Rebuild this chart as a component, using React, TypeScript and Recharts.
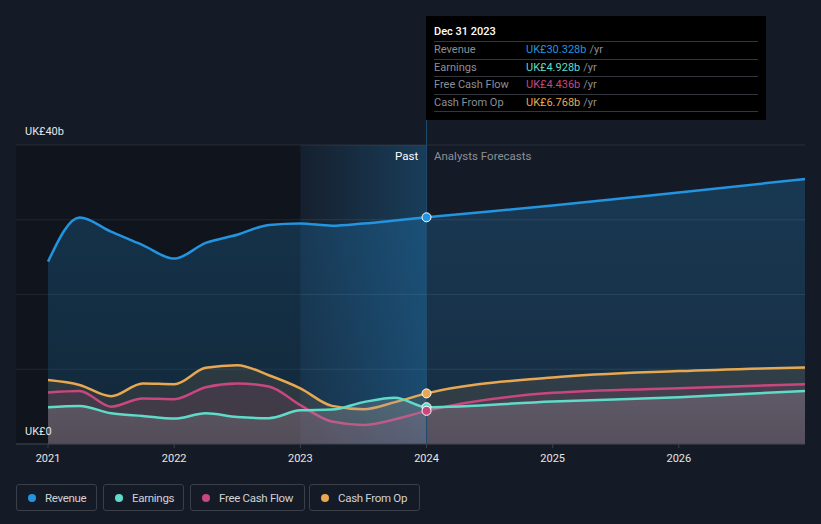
import React from "react"
import {
  ComposedChart,
  Area,
  XAxis,
  YAxis,
  CartesianGrid,
  ReferenceArea,
  ReferenceLine,
  ReferenceDot,
} from "recharts"

// time points (fractional years): quarterly history, then yearly forecasts
const TIMES = [
  2021.0, 2021.25, 2021.5, 2021.75, 2022.0, 2022.25, 2022.5, 2022.75,
  2023.0, 2023.25, 2023.5, 2023.75, 2024.0, 2025.0, 2026.0, 2027.0,
]
const REVENUE = [24.4, 30.3, 28.4, 26.6, 24.8, 26.9, 28.0, 29.3, 29.5, 29.2, 29.5, 29.9, 30.328, 31.9, 33.65, 35.45]
const EARNINGS = [4.9, 5.1, 4.1, 3.75, 3.4, 4.1, 3.6, 3.45, 4.5, 4.6, 5.6, 6.2, 4.928, 5.7, 6.25, 7.1]
const FREE_CASH_FLOW = [6.9, 7.1, 5.0, 6.1, 6.0, 7.6, 8.1, 7.7, 5.2, 3.0, 2.55, 3.3, 4.436, 6.85, 7.45, 8.0]
const CASH_FROM_OP = [8.55, 7.9, 6.4, 8.1, 8.0, 10.2, 10.55, 9.2, 7.45, 5.1, 4.65, 5.6, 6.768, 8.9, 9.75, 10.25]

const X_TICKS = [2021, 2022, 2023, 2024, 2025, 2026]
const Y_TICKS = [0, 10, 20, 30, 40]
const NOW = 2024.0
const NOW_INDEX = 12

const COLORS = {
  revenue: "#2394df",
  earnings: "#5fdcc9",
  fcf: "#c8477e",
  cfo: "#e8a852",
}

const SERIES = [
  { key: "revenue", name: "Revenue", values: REVENUE, color: COLORS.revenue },
  { key: "earnings", name: "Earnings", values: EARNINGS, color: COLORS.earnings },
  { key: "fcf", name: "Free Cash Flow", values: FREE_CASH_FLOW, color: COLORS.fcf },
  { key: "cfo", name: "Cash From Op", values: CASH_FROM_OP, color: COLORS.cfo },
]

// legend box placement
const LEGEND_BOXES = [
  { left: 16, width: 81 },
  { left: 103, width: 81 },
  { left: 190, width: 115 },
  { left: 309, width: 111 },
]

const chartData = TIMES.map((t, i) => ({
  t,
  revenue: REVENUE[i],
  earnings: EARNINGS[i],
  fcf: FREE_CASH_FLOW[i],
  cfo: CASH_FROM_OP[i],
}))

const FONT = "Roboto, 'Noto Sans', sans-serif"

const TOOLTIP_ROWS = [
  { label: "Revenue", value: "UK£30.328b", color: COLORS.revenue },
  { label: "Earnings", value: "UK£4.928b", color: COLORS.earnings },
  { label: "Free Cash Flow", value: "UK£4.436b", color: COLORS.fcf },
  { label: "Cash From Op", value: "UK£6.768b", color: COLORS.cfo },
]

export default function App() {
  return (
    <div
      style={{
        position: "fixed",
        left: 0,
        top: 0,
        width: 821,
        height: 524,
        background: "#151b26",
        fontFamily: FONT,
        overflow: "hidden",
      }}
    >
      <div style={{ position: "absolute", left: 0, top: 0 }}>
        <ComposedChart
          width={821}
          height={470}
          data={chartData}
          margin={{ top: 145, right: 16, left: 16, bottom: 0 }}
        >
          <defs>
            <linearGradient id="hl" x1="0" y1="0" x2="1" y2="0">
              <stop offset="0%" stopColor="#2394df" stopOpacity={0.04} />
              <stop offset="100%" stopColor="#2394df" stopOpacity={0.28} />
            </linearGradient>
            <linearGradient id="revFill" x1="0" y1="0" x2="0" y2="1">
              <stop offset="0%" stopColor="#2394df" stopOpacity={0.24} />
              <stop offset="100%" stopColor="#2394df" stopOpacity={0.15} />
            </linearGradient>
            <linearGradient id="earnFill" x1="0" y1="0" x2="0" y2="1">
              <stop offset="0%" stopColor="#9a9ca3" stopOpacity={0.3} />
              <stop offset="100%" stopColor="#9a9ca3" stopOpacity={0.2} />
            </linearGradient>
          </defs>
          <ReferenceArea x1={2020.746} x2={2023} fill="#000" fillOpacity={0.22} stroke="none" />
          <ReferenceArea x1={2023} x2={NOW} fill="url(#hl)" fillOpacity={1} stroke="none" />
          <CartesianGrid vertical={false} stroke="#2a303a" />
          <XAxis
            dataKey="t"
            type="number"
            domain={[2020.746, 2027.0]}
            allowDataOverflow
            ticks={X_TICKS}
            height={26}
            tickSize={4}
            tickMargin={6}
            stroke="#3a404a"
            tick={{ fill: "#e6e6e6", fontSize: 11, fontFamily: FONT }}
          />
          <YAxis hide domain={[0, 40]} ticks={Y_TICKS} />
          <Area
            type="monotone"
            dataKey="revenue"
            stroke={COLORS.revenue}
            strokeWidth={2.5}
            fill="url(#revFill)"
            fillOpacity={1}
            isAnimationActive={false}
          />
          <Area
            type="monotone"
            dataKey="cfo"
            stroke={COLORS.cfo}
            strokeWidth={2.5}
            fill={COLORS.cfo}
            fillOpacity={0.12}
            isAnimationActive={false}
          />
          <Area
            type="monotone"
            dataKey="fcf"
            stroke={COLORS.fcf}
            strokeWidth={2.5}
            fill={COLORS.fcf}
            fillOpacity={0.14}
            isAnimationActive={false}
          />
          <Area
            type="monotone"
            dataKey="earnings"
            stroke={COLORS.earnings}
            strokeWidth={2.5}
            fill="url(#earnFill)"
            fillOpacity={1}
            isAnimationActive={false}
          />
          <ReferenceLine x={NOW} stroke="#1f4b6e" strokeWidth={1} />
          {SERIES.map((s) => (
            <ReferenceDot
              key={s.key}
              x={NOW}
              y={s.values[NOW_INDEX]}
              r={4.5}
              fill={s.color}
              stroke="#ffffff"
              strokeWidth={1}
            />
          ))}
        </ComposedChart>
      </div>

      {/* pointer line above plot */}
      <div style={{ position: "absolute", left: 426, top: 118, width: 1, height: 27, background: "#1f4b6e" }} />

      {/* y labels */}
      <div style={{ position: "absolute", left: 25, top: 125, fontSize: 11, color: "#e6e6e6" }}>UK£40b</div>
      <div style={{ position: "absolute", left: 25, top: 425, fontSize: 11, color: "#e6e6e6" }}>UK£0</div>

      {/* past / forecast labels */}
      <div style={{ position: "absolute", left: 395, top: 149, fontSize: 11.5, color: "#ffffff" }}>Past</div>
      <div style={{ position: "absolute", left: 434, top: 149, fontSize: 11.5, color: "#8b9097" }}>Analysts Forecasts</div>

      {/* tooltip box */}
      <div
        style={{
          position: "absolute",
          left: 426,
          top: 16,
          width: 340,
          height: 104,
          background: "#000",
          boxSizing: "border-box",
          padding: "0 8px",
        }}
      >
        <div style={{ height: 25, lineHeight: "31px", fontSize: 11, fontWeight: 500, color: "#fff" }}>Dec 31 2023</div>
        {TOOLTIP_ROWS.map((r) => (
          <div
            key={r.label}
            style={{
              borderTop: "1px solid #33373d",
              height: 16.5,
              lineHeight: "16px",
              fontSize: 11,
              display: "flex",
            }}
          >
            <span style={{ width: 92, color: "#8b8f96" }}>{r.label}</span>
            <span style={{ color: r.color }}>{r.value}</span>
            <span style={{ color: "#8b8f96", marginLeft: 3 }}>/yr</span>
          </div>
        ))}
        <div style={{ borderTop: "1px solid #33373d" }} />
      </div>

      {/* legend */}
      {SERIES.map((s, i) => (
        <div
          key={s.key}
          style={{
            position: "absolute",
            left: LEGEND_BOXES[i].left,
            top: 484,
            width: LEGEND_BOXES[i].width,
            height: 27,
            boxSizing: "border-box",
            border: "1px solid #3a3f48",
            borderRadius: 3,
            paddingLeft: 11,
            display: "flex",
            alignItems: "center",
            fontSize: 11.5,
            letterSpacing: -0.3,
            color: "#d0d2d6",
            whiteSpace: "nowrap",
          }}
        >
          <span
            style={{
              width: 8,
              height: 8,
              borderRadius: "50%",
              background: s.color,
              marginRight: 9,
              display: "inline-block",
              flexShrink: 0,
            }}
          />
          {s.name}
        </div>
      ))}
    </div>
  )
}
